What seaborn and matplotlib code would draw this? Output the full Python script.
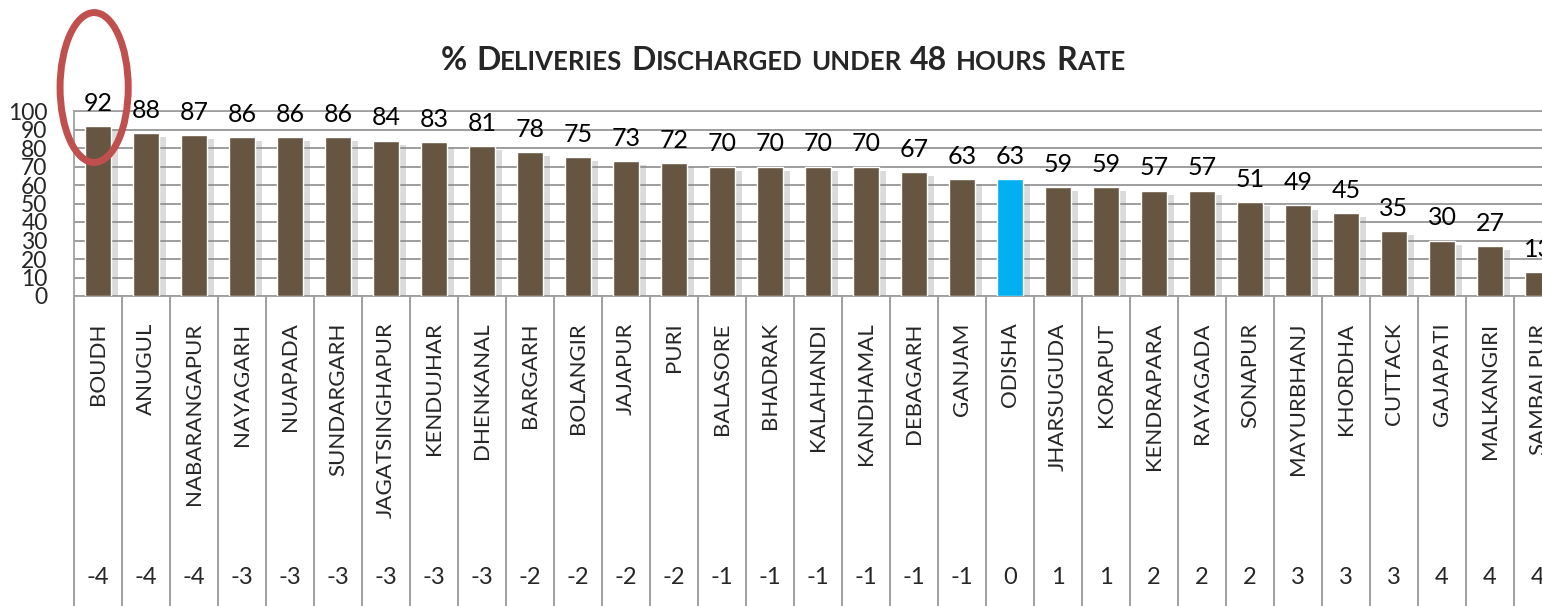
import matplotlib
matplotlib.use("Agg")
import matplotlib.pyplot as plt
import matplotlib.patheffects as pe
from matplotlib.patches import Ellipse
import seaborn as sns

# ====================== DATA ======================
districts = ["BOUDH", "ANUGUL", "NABARANGAPUR", "NAYAGARH", "NUAPADA", "SUNDARGARH",
             "JAGATSINGHAPUR", "KENDUJHAR", "DHENKANAL", "BARGARH", "BOLANGIR", "JAJAPUR",
             "PURI", "BALASORE", "BHADRAK", "KALAHANDI", "KANDHAMAL", "DEBAGARH", "GANJAM",
             "ODISHA", "JHARSUGUDA", "KORAPUT", "KENDRAPARA", "RAYAGADA", "SONAPUR",
             "MAYURBHANJ", "KHORDHA", "CUTTACK", "GAJAPATI", "MALKANGIRI", "SAMBALPUR"]
rates = [92, 88, 87, 86, 86, 86, 84, 83, 81, 78, 75, 73, 72, 70, 70, 70, 70, 67, 63,
         63, 59, 59, 57, 57, 51, 49, 45, 35, 30, 27, 13]
rank_score = [-4, -4, -4, -3, -3, -3, -3, -3, -3, -2, -2, -2, -2, -1, -1, -1, -1, -1, -1,
              0, 1, 1, 2, 2, 2, 3, 3, 3, 4, 4, 4]
highlight = "ODISHA"

# ====================== STYLE ======================
BROWN = "#665540"
BLUE = "#00B0F0"
GRID = "#8C8C8C"
W, H, DPI = 1542, 606, 100

sns.set_style("white")
plt.rcParams["font.family"] = ["Lato", "DejaVu Sans"]

fig = plt.figure(figsize=(W / DPI, H / DPI), dpi=DPI)
# plot area in pixels: x 74 -> 1562 (runs past the right edge), y 111 -> 296
ax = fig.add_axes([74 / W, (H - 296) / H, 1488 / W, 185 / H])

palette = {d: (BLUE if d == highlight else BROWN) for d in districts}
sns.barplot(x=districts, y=rates, hue=districts, palette=palette, legend=False,
            saturation=1, width=0.56, ax=ax, zorder=3)

shadow = [pe.SimplePatchShadow(offset=(5, -3), shadow_rgbFace="#888888", alpha=0.3), pe.Normal()]
for patch in ax.patches:
    patch.set_path_effects(shadow)

for cont in ax.containers:
    ax.bar_label(cont, fmt="%d", padding=8, fontsize=18, color="black", clip_on=False)

ax.set_xlim(-0.5, len(districts) - 0.5)
ax.set_ylim(0, 100)
ax.set_yticks(range(0, 101, 10))
ax.yaxis.grid(True, color=GRID, lw=1.2, zorder=0)
ax.set_axisbelow(True)
ax.tick_params(axis="y", length=0, pad=19, labelsize=16.5)
ax.tick_params(axis="x", length=0, pad=19, labelsize=16, labelrotation=90)
ax.set_xlabel("")
ax.set_ylabel("")
for side in ["left", "bottom", "top"]:
    ax.spines[side].set_color("#A0A0A0")
    ax.spines[side].set_linewidth(1.3)
ax.spines["right"].set_visible(False)

# table below the bars: cell borders and score row
trans = ax.get_xaxis_transform()
depth = (H - 296) / 185
ax.vlines([i - 0.5 for i in range(len(districts) + 1)], -depth, 0, transform=trans,
          color="#A0A0A0", lw=1.4, clip_on=False)
for i, s in enumerate(rank_score):
    ax.text(i, -(578 - 296) / 185, str(s), transform=trans, ha="center", va="center",
            fontsize=17, clip_on=False)

# red ring around the top performer
ax.add_patch(Ellipse((-0.08, 112.7), 1.42, 81, fill=False, ec="#C0504D", lw=5,
                     clip_on=False, zorder=5))

# title in small caps, built piece by piece
big, small = 23, 18.5
pieces = [("%", big, 9), ("D", big, 0), ("ELIVERIES", small, 9), ("D", big, 0),
          ("ISCHARGED", small, 8), ("UNDER", small, 9), ("48", big, 9), ("HOURS", small, 9),
          ("R", big, 0), ("ATE", small, 0)]
texts = [fig.text(0, (H - 70) / H, s, fontsize=fs, fontweight="bold", va="baseline")
         for s, fs, _ in pieces]
fig.canvas.draw()
r = fig.canvas.get_renderer()
widths = [t.get_window_extent(r).width for t in texts]
total = sum(widths) + sum(g for _, _, g in pieces)
x = 783 - total / 2
for t, w, (_, _, g) in zip(texts, widths, pieces):
    t.set_x(x / W)
    x += w + g

fig.savefig("out.png", dpi=DPI)
